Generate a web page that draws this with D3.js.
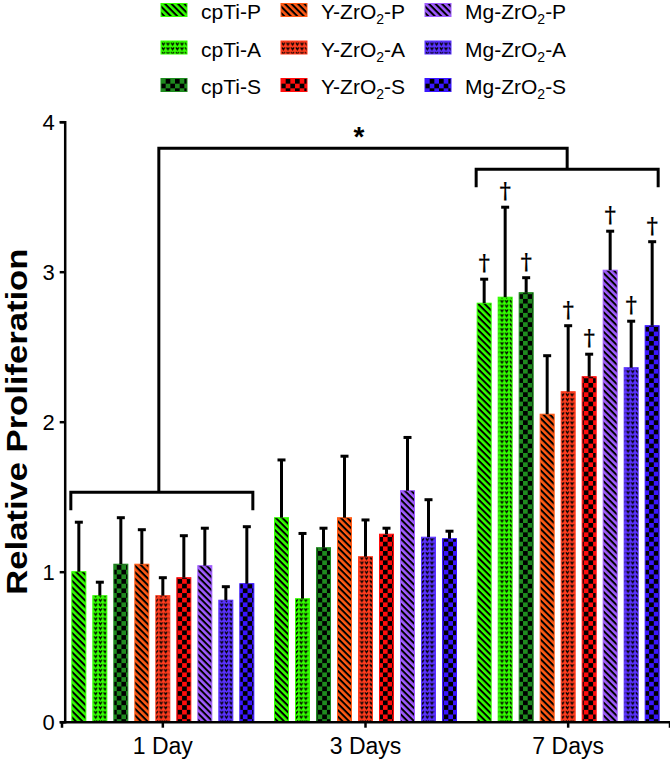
<!DOCTYPE html>
<html>
<head>
<meta charset="utf-8">
<script src="https://d3js.org/d3.v7.min.js"></script>
<style>
body { margin: 0; background: #fff; }
text { font-family: "Liberation Sans", Arial, sans-serif; fill: #000; }
</style>
</head>
<body>
<div id="chart"></div>
<script>
// ---- data ----
const days = ["1 Day", "3 Days", "7 Days"];
const series = ["cpTi-P", "cpTi-A", "cpTi-S", "Y-ZrO2-P", "Y-ZrO2-A", "Y-ZrO2-S", "Mg-ZrO2-P", "Mg-ZrO2-A", "Mg-ZrO2-S"];
const seriesColors = ["#33ff00", "#33ff00", "#1f8a1f", "#ff5a14", "#ff3c1e", "#ff0d0d", "#a05cff", "#5a32ff", "#3a16ff"];
const seriesPatterns = ["P", "A", "S", "P", "A", "S", "P", "A", "S"];

const mean1Day = [1.00, 0.84, 1.05, 1.05, 0.84, 0.96, 1.04, 0.81, 0.92];
const err1Day = [0.33, 0.09, 0.31, 0.23, 0.12, 0.28, 0.25, 0.09, 0.38];
const mean3Days = [1.36, 0.82, 1.16, 1.36, 1.10, 1.25, 1.54, 1.23, 1.22];
const err3Days = [0.385, 0.435, 0.13, 0.41, 0.245, 0.04, 0.355, 0.25, 0.05];
const mean7Days = [2.79, 2.83, 2.86, 2.05, 2.20, 2.30, 3.01, 2.36, 2.64];
const err7Days = [0.16, 0.60, 0.10, 0.39, 0.44, 0.15, 0.26, 0.31, 0.56];
const dagger7Days = [1, 1, 1, 0, 1, 1, 1, 1, 1];

const yTicks = [0, 1, 2, 3, 4];

const means = [mean1Day, mean3Days, mean7Days];
const errs = [err1Day, err3Days, err7Days];

const W = 670, H = 763;

const svg = d3.select("#chart").append("svg")
  .attr("width", W)
  .attr("height", H);

// ---- patterns ----
const defs = svg.append("defs");
series.forEach(function(s, i) {
  const c = seriesColors[i];
  const id = "pat" + i;
  if (seriesPatterns[i] == "P") {
    // diagonal stripes running top-left to bottom-right
    const p = defs.append("pattern")
      .attr("id", id)
      .attr("patternUnits", "userSpaceOnUse")
      .attr("width", 8).attr("height", 4.6)
      .attr("patternTransform", "rotate(45)");
    p.append("rect").attr("width", 8).attr("height", 4.6).attr("fill", c);
    p.append("rect").attr("y", 0).attr("width", 8).attr("height", 2).attr("fill", "#000");
  } else if (seriesPatterns[i] == "A") {
    const p = defs.append("pattern")
      .attr("id", id)
      .attr("patternUnits", "userSpaceOnUse")
      .attr("width", 4.67).attr("height", 4.67);
    p.append("rect").attr("width", 4.67).attr("height", 4.67).attr("fill", c);
    p.append("path")
      .attr("d", "M0.9,1.2 L2.3,3.4 L3.7,1.2")
      .attr("fill", "none")
      .attr("stroke", "#000")
      .attr("stroke-width", 1.3);
  } else {
    const p = defs.append("pattern")
      .attr("id", id)
      .attr("patternUnits", "userSpaceOnUse")
      .attr("width", 9.34).attr("height", 9.34);
    p.append("rect").attr("width", 9.34).attr("height", 9.34).attr("fill", c);
    p.append("rect").attr("width", 4.67).attr("height", 4.67).attr("fill", "#000");
    p.append("rect").attr("x", 4.67).attr("y", 4.67).attr("width", 4.67).attr("height", 4.67).attr("fill", "#000");
  }
});

// ---- scales ----
const x = d3.scaleBand()
  .domain(days)
  .range([61.5, 669.5]);

const xInner = d3.scaleBand()
  .domain(series)
  .range([-94.5, 94.5])
  .paddingInner(0.333)
  .paddingOuter(0.1665);

const y = d3.scaleLinear()
  .domain([0, 4])
  .range([721.7, 121.7]);

const xc = d => x(d) + x.bandwidth() / 2;

// ---- bars ----
const rows = [];
days.forEach(function(d, di) {
  series.forEach(function(s, si) {
    rows.push({day: d, di: di, s: s, si: si, mean: means[di][si], err: errs[di][si],
               dagger: di == 2 ? dagger7Days[si] : 0});
  });
});

const barG = svg.append("g");
barG.selectAll("rect")
  .data(rows)
  .join("rect")
    .attr("x", d => xc(d.day) + xInner(d.s))
    .attr("y", d => y(d.mean))
    .attr("width", xInner.bandwidth())
    .attr("height", d => y(0) - y(d.mean))
    .attr("fill", d => "url(#pat" + d.si + ")")
    .attr("stroke", d => seriesColors[d.si])
    .attr("stroke-width", 1);

// error bars (upper only)
const errG = svg.append("g")
  .attr("stroke", "#000")
  .attr("stroke-width", 3);
errG.selectAll("line.v")
  .data(rows)
  .join("line")
    .attr("class", "v")
    .attr("x1", d => xc(d.day) + xInner(d.s) + xInner.bandwidth() / 2)
    .attr("x2", d => xc(d.day) + xInner(d.s) + xInner.bandwidth() / 2)
    .attr("y1", d => y(d.mean))
    .attr("y2", d => y(d.mean + d.err));
errG.selectAll("line.cap")
  .data(rows)
  .join("line")
    .attr("class", "cap")
    .attr("x1", d => xc(d.day) + xInner(d.s) + xInner.bandwidth() / 2 - 4)
    .attr("x2", d => xc(d.day) + xInner(d.s) + xInner.bandwidth() / 2 + 4)
    .attr("y1", d => y(d.mean + d.err))
    .attr("y2", d => y(d.mean + d.err));

// daggers
svg.append("g").selectAll("text")
  .data(rows.filter(d => d.dagger))
  .join("text")
    .attr("x", d => xc(d.day) + xInner(d.s) + xInner.bandwidth() / 2)
    .attr("y", d => y(d.mean + d.err) - 9)
    .attr("text-anchor", "middle")
    .attr("fill", "#000")
    .style("font-family", "'DejaVu Serif', serif")
    .style("font-weight", "bold")
    .style("font-size", "22px")
    .text("\u2020");

// ---- axes ----
const yAxis = svg.append("g")
  .attr("transform", "translate(64.7,0)")
  .call(d3.axisLeft(y).tickValues(yTicks).tickFormat(d3.format("d")).tickSize(5).tickPadding(5));
yAxis.selectAll("path, line").attr("stroke", "#000").attr("stroke-width", 2.5);
yAxis.selectAll("text").style("font-size", "22px").attr("dy", "0.36em");

const xAxis = svg.append("g")
  .attr("transform", "translate(0," + y(0) + ")")
  .call(d3.axisBottom(x).tickSizeOuter(0).tickSize(6).tickPadding(10));
xAxis.selectAll("path, line").attr("stroke", "#000").attr("stroke-width", 2.5);
xAxis.selectAll("text").style("font-size", "23px");

// axis title (heavy, slightly condensed like the original)
svg.append("text")
  .attr("transform", "translate(27," + ((y(0) + y(4)) / 2) + ") rotate(-90)")
  .attr("text-anchor", "middle")
  .attr("textLength", 346)
  .attr("lengthAdjust", "spacingAndGlyphs")
  .style("font-size", "30px")
  .style("font-weight", "bold")
  .text("Relative Proliferation");

// ---- significance brackets ----
const brG = svg.append("g")
  .attr("fill", "none")
  .attr("stroke", "#000")
  .attr("stroke-width", 3);

function spanOf(day) {
  return [xc(day) + xInner(series[0]) - 1, xc(day) + xInner(series[series.length - 1]) + xInner.bandwidth() - 1];
}
const s1 = spanOf(days[0]), s7 = spanOf(days[2]);
const stem1 = (s1[0] + s1[1]) / 2 - 3, stem7 = (s7[0] + s7[1]) / 2;
// 1 Day bracket
brG.append("path")
  .attr("d", "M" + s1[0] + "," + y(1.41) + "V" + y(1.53) + "H" + s1[1] + "V" + y(1.41));
// 7 Days bracket
brG.append("path")
  .attr("d", "M" + s7[0] + "," + y(3.563) + "V" + y(3.683) + "H" + s7[1] + "V" + y(3.563));
// link
brG.append("path")
  .attr("d", "M" + stem1 + "," + y(1.53) + "V" + y(3.823) + "H" + stem7 + "V" + y(3.683));

svg.append("text")
  .attr("x", (stem1 + stem7) / 2 - 4)
  .attr("y", y(3.823) - 2)
  .attr("text-anchor", "middle")
  .style("font-size", "28px")
  .style("font-weight", "bold")
  .text("*");

// ---- legend ----
const legendCols = [161, 281, 425];
const legend = svg.append("g").selectAll("g")
  .data(series)
  .join("g")
    .attr("transform", (d, i) => "translate(" + legendCols[Math.floor(i / 3)] + "," + (18 + (i % 3) * 37.5) + ")");

legend.append("rect")
  .attr("x", 0)
  .attr("y", -14.5)
  .attr("width", 26)
  .attr("height", 13)
  .attr("fill", (d, i) => "url(#pat" + i + ")")
  .attr("stroke", (d, i) => seriesColors[i])
  .attr("stroke-width", 1);

legend.each(function(d) {
  const t = d3.select(this).append("text")
    .attr("x", 40)
    .attr("y", 1)
    .style("font-size", "21px");
  const k = d.indexOf("O2");
  if (k < 0) {
    t.text(d);
  } else {
    t.append("tspan").text(d.slice(0, k + 1));
    t.append("tspan").attr("dy", 5).style("font-size", "14px").text("2");
    t.append("tspan").attr("dy", -5).text(d.slice(k + 2));
  }
});
</script>
</body>
</html>
